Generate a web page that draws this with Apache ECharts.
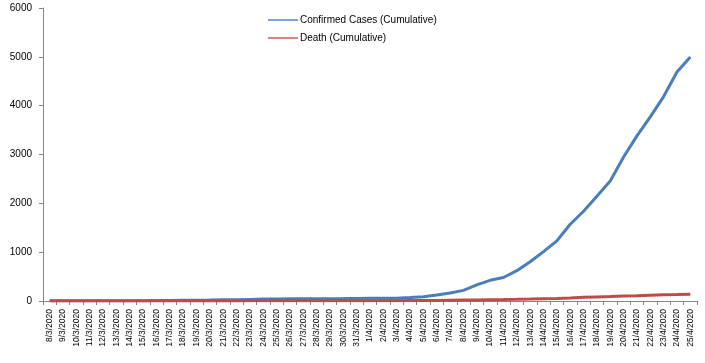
<!DOCTYPE html>
<html>
<head>
<meta charset="utf-8">
<script src="https://cdn.jsdelivr.net/npm/echarts@6/dist/echarts.min.js"></script>
<style>
html,body{margin:0;padding:0;background:#fff;}
#c{width:705px;height:363px;}
</style>
</head>
<body>
<div id="c"></div>
<script>
var dates = ["8/3/2020","9/3/2020","10/3/2020","11/3/2020","12/3/2020","13/3/2020","14/3/2020","15/3/2020","16/3/2020","17/3/2020","18/3/2020","19/3/2020","20/3/2020","21/3/2020","22/3/2020","23/3/2020","24/3/2020","25/3/2020","26/3/2020","27/3/2020","28/3/2020","29/3/2020","30/3/2020","31/3/2020","1/4/2020","2/4/2020","3/4/2020","4/4/2020","5/4/2020","6/4/2020","7/4/2020","8/4/2020","9/4/2020","10/4/2020","11/4/2020","12/4/2020","13/4/2020","14/4/2020","15/4/2020","16/4/2020","17/4/2020","18/4/2020","19/4/2020","20/4/2020","21/4/2020","22/4/2020","23/4/2020","24/4/2020","25/4/2020"];
var confirmed = [3,3,3,3,3,3,3,5,8,10,14,17,20,24,27,33,39,39,44,48,48,48,49,51,54,56,56,70,88,123,164,218,330,424,482,621,803,1012,1231,1572,1838,2144,2456,2948,3382,3772,4186,4689,4998];
var deaths = [0,0,0,0,0,0,0,0,0,0,1,1,1,2,2,3,4,5,5,5,5,5,5,5,6,6,6,8,9,12,17,20,21,27,30,34,39,46,50,60,75,84,91,101,110,120,127,131,140];
var yTicks = {min: 0, max: 6000, interval: 1000};
var seriesNames = ["Confirmed Cases (Cumulative)", "Death (Cumulative)"];

var chart = echarts.init(document.getElementById('c'), null, {renderer: 'canvas'});
var font = 'Liberation Sans';
chart.setOption({
  animation: false,
  backgroundColor: '#ffffff',
  grid: {left: 43, right: 8, top: 8, bottom: 62, containLabel: false},
  legend: {
    orient: 'vertical',
    left: 263,
    top: 10,
    itemWidth: 30,
    itemHeight: 2,
    itemGap: 8,
    icon: 'rect',
    textStyle: {fontFamily: font, fontSize: 10, color: '#000', padding: [0,0,0,-3]},
    data: [
      {name: seriesNames[0], itemStyle: {color: '#7fa3d4'}},
      {name: seriesNames[1], itemStyle: {color: '#d98583'}}
    ]
  },
  xAxis: {
    type: 'category',
    data: dates,
    boundaryGap: true,
    axisLine: {lineStyle: {color: '#868686', width: 1}},
    axisTick: {show: true, alignWithLabel: false, length: 4, lineStyle: {color: '#868686'}},
    axisLabel: {rotate: 90, interval: 0, fontFamily: font, fontSize: 8.5, color: '#000', margin: 8}
  },
  yAxis: {
    type: 'value',
    min: yTicks.min, max: yTicks.max, interval: yTicks.interval,
    splitLine: {show: false},
    axisLine: {show: true, lineStyle: {color: '#868686', width: 1}},
    axisTick: {show: true, length: 4, lineStyle: {color: '#868686'}},
    axisLabel: {fontFamily: font, fontSize: 10, color: '#000', margin: 11,
      formatter: function (v) { return String(v); }}
  },
  series: [
    {name: seriesNames[0], type: 'line', data: confirmed, symbol: 'none', smooth: false,
     lineStyle: {color: '#4a7ebb', width: 3}, itemStyle: {color: '#4a7ebb'}},
    {name: seriesNames[1], type: 'line', data: deaths, symbol: 'none', smooth: false,
     lineStyle: {color: '#be4b48', width: 3}, itemStyle: {color: '#be4b48'}}
  ]
});
</script>
</body>
</html>
